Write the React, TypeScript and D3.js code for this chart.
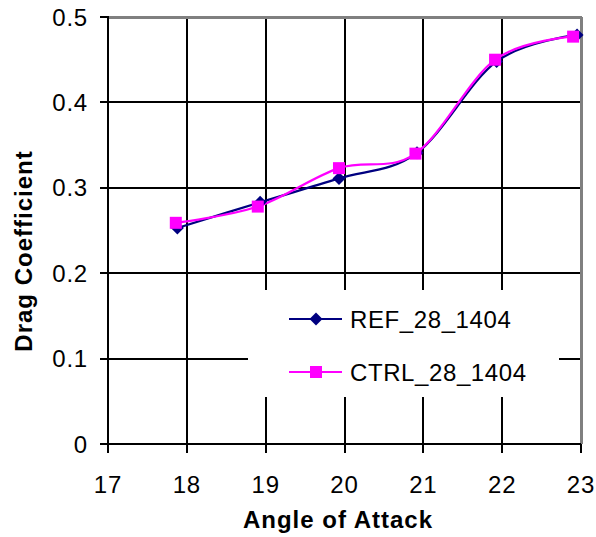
import React from "react";
import * as d3 from "d3";

const xTicks = [17, 18, 19, 20, 21, 22, 23];
const yTicks = [0, 0.1, 0.2, 0.3, 0.4, 0.5];

const refX = [17.88, 18.93, 19.93, 20.92, 21.93, 22.95];
const refY = [0.253, 0.283, 0.311, 0.341, 0.448, 0.479];

const ctrlX = [17.86, 18.9, 19.93, 20.9, 21.91, 22.9];
const ctrlY = [0.259, 0.278, 0.323, 0.340, 0.450, 0.477];

const seriesNames = ["REF_28_1404", "CTRL_28_1404"];
const xTitle = "Angle of Attack";
const yTitle = "Drag Coefficient";

const W = 596;
const H = 537;
const L = 108, R = 581, T = 17, B = 444;

export default function App() {
  const x = d3.scaleLinear().domain([17, 23]).range([L, R]);
  const y = d3.scaleLinear().domain([0, 0.5]).range([B, T]);
  const line = d3
    .line<[number, number]>()
    .x((d) => x(d[0]))
    .y((d) => y(d[1]))
    .curve(d3.curveCardinal.tension(0));

  const refPts: [number, number][] = refX.map((v, i) => [v, refY[i]]);
  const ctrlPts: [number, number][] = ctrlX.map((v, i) => [v, ctrlY[i]]);

  const navy = "#000080";
  const magenta = "#FF00FF";
  const font = "'Liberation Sans', Arial, sans-serif";

  const diamond = (cx: number, cy: number, s = 6.5) =>
    `M${cx},${cy - s}L${cx + s},${cy}L${cx},${cy + s}L${cx - s},${cy}Z`;

  const legX0 = 289, legX1 = 342, legMid = 316;
  const legY = [319, 372];
  const px = (v: number) => Math.round(v);

  return (
    <svg
      width={W}
      height={H}
      style={{ position: "absolute", left: 0, top: 0, background: "#fff" }}
      fontFamily={font}
    >
      <rect x={0} y={0} width={W} height={H} fill="#fff" />
      {/* gridlines */}
      <g shapeRendering="crispEdges">
        {yTicks.filter((t) => t > 0 && t < 0.5).map((t) => (
          <line key={"gy" + t} x1={L} x2={R} y1={px(y(t))} y2={px(y(t))} stroke="#000" strokeWidth={2} />
        ))}
        {xTicks.filter((t) => t > 17 && t < 23).map((t) => (
          <line key={"gx" + t} x1={px(x(t))} x2={px(x(t))} y1={T} y2={B} stroke="#000" strokeWidth={2} />
        ))}
        {/* plot border */}
        <line x1={L} x2={R + 1} y1={T} y2={T} stroke="#808080" strokeWidth={3} />
        <line x1={R} x2={R} y1={T} y2={B} stroke="#808080" strokeWidth={3} />
        {/* axes */}
        <line x1={L} x2={L} y1={T - 1} y2={B} stroke="#000" strokeWidth={2} />
        <line x1={L} x2={R} y1={B} y2={B} stroke="#000" strokeWidth={2} />
        {yTicks.map((t) => (
          <line key={"ytl" + t} x1={L - 8} x2={L} y1={px(y(t))} y2={px(y(t))} stroke="#000" strokeWidth={2} />
        ))}
        {xTicks.map((t) => (
          <line key={"xtl" + t} x1={px(x(t))} x2={px(x(t))} y1={B} y2={B + 9} stroke="#000" strokeWidth={2} />
        ))}
      </g>
      {yTicks.map((t) => (
        <text
          key={"yt" + t}
          x={88}
          y={y(t)}
          dy="0.36em"
          textAnchor="end"
          fontSize={24}
          letterSpacing={0.8}
          fill="#000"
        >
          {t === 0 ? "0" : d3.format(".1f")(t)}
        </text>
      ))}
      {xTicks.map((t) => (
        <text key={"xt" + t} x={x(t)} y={493} textAnchor="middle" fontSize={24} letterSpacing={0.8} fill="#000">
          {t}
        </text>
      ))}
      {/* axis titles */}
      <text x={338} y={528} textAnchor="middle" fontSize={24} fontWeight="bold" letterSpacing={1} fill="#000">
        {xTitle}
      </text>
      <text
        transform={`translate(32,251) rotate(-90)`}
        textAnchor="middle"
        fontSize={24}
        fontWeight="bold"
        letterSpacing={1}
        fill="#000"
      >
        {yTitle}
      </text>
      {/* series */}
      <path d={line(refPts) || ""} fill="none" stroke={navy} strokeWidth={2.2} />
      <path d={line(ctrlPts) || ""} fill="none" stroke={magenta} strokeWidth={2.2} />
      {refPts.map((p, i) => (
        <path key={"rm" + i} d={diamond(x(p[0]), y(p[1]))} fill={navy} />
      ))}
      {ctrlPts.map((p, i) => (
        <rect key={"cm" + i} x={x(p[0]) - 6} y={y(p[1]) - 6} width={12} height={12} fill={magenta} />
      ))}
      {/* legend */}
      <rect x={248} y={290} width={311} height={107} fill="#fff" />
      {seriesNames.map((name, i) => (
        <g key={"lg" + i}>
          <line x1={legX0} x2={legX1} y1={legY[i]} y2={legY[i]} stroke={i === 0 ? navy : magenta} strokeWidth={2} />
          {i === 0 ? (
            <path d={diamond(legMid, legY[i])} fill={navy} />
          ) : (
            <rect x={legMid - 6} y={legY[i] - 6} width={12} height={12} fill={magenta} />
          )}
          <text x={350} y={legY[i]} dy="0.36em" fontSize={24} letterSpacing={0.6} fill="#000">
            {name}
          </text>
        </g>
      ))}
    </svg>
  );
}
